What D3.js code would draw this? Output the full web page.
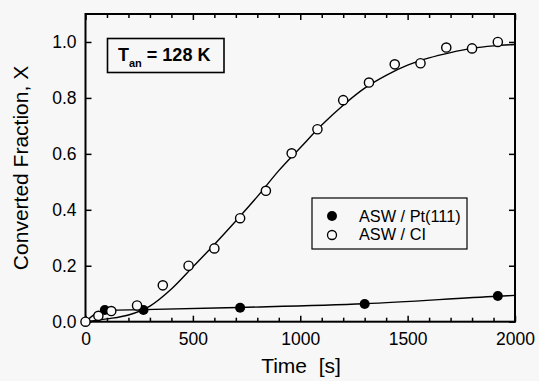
<!DOCTYPE html>
<html><head><meta charset="utf-8">
<script src="https://cdn.jsdelivr.net/npm/d3@7"></script>
<style>
body{margin:0;background:#f7f7f7;}
svg{display:block;font-family:Arial,"Liberation Sans",sans-serif;}
</style></head><body>
<svg id="chart" width="539" height="381"></svg>
<script>
// Data
const ptTime = [90, 270, 720, 1300, 1920];
const ptX    = [0.042, 0.042, 0.050, 0.063, 0.092];
const clTime = [0, 60, 120, 240, 360, 480, 600, 720, 840, 960, 1080, 1200, 1320, 1440, 1560, 1680, 1800, 1920];
const clX    = [0.0, 0.021, 0.038, 0.058, 0.13, 0.2, 0.262, 0.37, 0.468, 0.602, 0.688, 0.792, 0.855, 0.92, 0.924, 0.98, 0.977, 1.0];
// Fit curves
const clFitTime = [0, 100, 200, 300, 400, 500, 600, 700, 800, 900, 1000, 1100, 1200, 1300, 1400, 1500, 1600, 1700, 1800, 1900, 2000];
const clFitX    = [0, 0.01, 0.024, 0.056, 0.117, 0.196, 0.276, 0.36, 0.447, 0.54, 0.622, 0.703, 0.774, 0.835, 0.881, 0.917, 0.943, 0.962, 0.977, 0.986, 0.991];
const ptFitTime = [0, 50, 100, 270, 720, 1300, 1920, 2000];
const ptFitX    = [0, 0.03, 0.041, 0.043, 0.051, 0.064, 0.091, 0.094];
const xTicks = [0, 500, 1000, 1500, 2000];
const yTicks = [0.0, 0.2, 0.4, 0.6, 0.8, 1.0];
const seriesNames = ["ASW / Pt(111)", "ASW / CI"];

const svg = d3.select("#chart");
const L = 85.5, R = 515, T = 14, B = 321.7;
const x = d3.scaleLinear().domain([0, 2000]).range([L, R]);
const y = d3.scaleLinear().domain([0, 1.1]).range([B, T]);

// fit lines
const line = d3.line().x(d => x(d[0])).y(d => y(d[1])).curve(d3.curveMonotoneX);
svg.append("path").datum(d3.zip(ptFitTime, ptFitX)).attr("d", line)
  .attr("fill", "none").attr("stroke", "#000").attr("stroke-width", 1.4);
svg.append("path").datum(d3.zip(clFitTime, clFitX)).attr("d", line)
  .attr("fill", "none").attr("stroke", "#000").attr("stroke-width", 1.4);

// axes (ticks inward)
const minorX = d3.range(0, 2001, 100).filter(v => v % 500);
svg.append("g").attr("transform", `translate(0,${B})`)
  .call(d3.axisBottom(x).tickValues(xTicks).tickFormat(d3.format("d")).tickSizeInner(-6).tickSizeOuter(0).tickPadding(11))
  .call(g => g.select(".domain").remove())
  .call(g => g.selectAll("text").attr("font-size", 17.5).attr("fill", "#000"));
svg.append("g").attr("transform", `translate(0,${B})`)
  .call(d3.axisBottom(x).tickValues(minorX).tickSize(-4).tickFormat(""))
  .call(g => g.select(".domain").remove());
svg.append("g").attr("transform", `translate(0,${T})`)
  .call(d3.axisTop(x).tickValues(xTicks).tickSize(-6).tickFormat(""))
  .call(g => g.select(".domain").remove());
svg.append("g").attr("transform", `translate(0,${T})`)
  .call(d3.axisTop(x).tickValues(minorX).tickSize(-4).tickFormat(""))
  .call(g => g.select(".domain").remove());
svg.append("g").attr("transform", `translate(${L},0)`)
  .call(d3.axisLeft(y).tickValues(yTicks).tickFormat(d3.format(".1f")).tickSizeInner(-6).tickSizeOuter(0).tickPadding(9))
  .call(g => g.select(".domain").remove())
  .call(g => g.selectAll("text").attr("font-size", 17.5).attr("fill", "#000"));
svg.append("g").attr("transform", `translate(${R},0)`)
  .call(d3.axisRight(y).tickValues(yTicks).tickSize(-6).tickFormat(""))
  .call(g => g.select(".domain").remove());
svg.selectAll(".tick line").attr("stroke", "#000").attr("stroke-width", 1.5);

// frame
svg.append("rect").attr("x", L).attr("y", T).attr("width", R - L).attr("height", B - T)
  .attr("fill", "none").attr("stroke", "#000").attr("stroke-width", 2);

// points
svg.append("g").selectAll("circle").data(d3.zip(ptTime, ptX)).join("circle")
  .attr("cx", d => x(d[0])).attr("cy", d => y(d[1])).attr("r", 5).attr("fill", "#000");
svg.append("g").selectAll("circle").data(d3.zip(clTime, clX)).join("circle")
  .attr("cx", d => x(d[0])).attr("cy", d => y(d[1])).attr("r", 4.6)
  .attr("fill", "#fafafa").attr("stroke", "#000").attr("stroke-width", 1.4);

// axis titles
svg.append("text").attr("x", 301).attr("y", 373).attr("text-anchor", "middle")
  .attr("font-size", 21).attr("xml:space", "preserve").text("Time  [s]");
svg.append("text").attr("transform", "translate(28,168) rotate(-90)").attr("text-anchor", "middle")
  .attr("font-size", 21).text("Converted Fraction, X");

// annotation box
svg.append("rect").attr("x", 107.5).attr("y", 38.5).attr("width", 116.5).attr("height", 34)
  .attr("fill", "none").attr("stroke", "#000").attr("stroke-width", 1.6);
const ann = svg.append("text").attr("x", 118).attr("y", 61).attr("font-size", 18).attr("font-weight", "bold");
ann.append("tspan").text("T");
ann.append("tspan").attr("font-size", 11).attr("dy", 5.5).text("an");
ann.append("tspan").attr("dy", -5.5).text(" = 128 K");

// legend
svg.append("rect").attr("x", 312).attr("y", 198).attr("width", 155).attr("height", 51)
  .attr("fill", "#f7f7f7").attr("stroke", "#000").attr("stroke-width", 1.2);
const lg = svg.append("g");
lg.append("circle").attr("cx", 332).attr("cy", 216).attr("r", 5).attr("fill", "#000");
lg.append("circle").attr("cx", 332).attr("cy", 235).attr("r", 4.5).attr("fill", "#fafafa").attr("stroke", "#000").attr("stroke-width", 1.3);
lg.selectAll("text").data(seriesNames).join("text")
  .attr("x", 359).attr("y", (d, i) => 221.7 + i * 18.5).attr("font-size", 16.3).text(d => d);
</script>
</body></html>
